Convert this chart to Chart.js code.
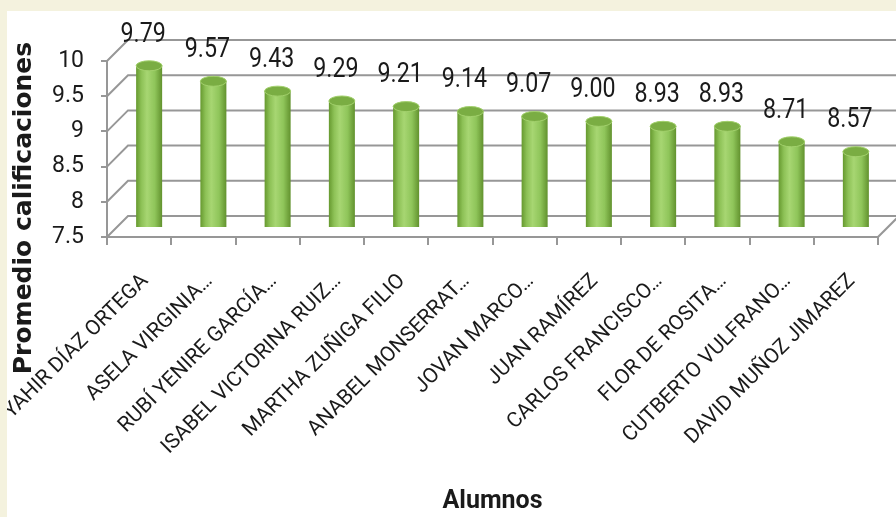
<!DOCTYPE html>
<html><head><meta charset="utf-8">
<script src="https://cdn.jsdelivr.net/npm/chart.js@4.4.1/dist/chart.umd.min.js"></script>
<style>
html,body{margin:0;padding:0;background:#F4F2DE;width:896px;height:517px;overflow:hidden}
#wrap{position:absolute;left:7px;top:11px;width:889px;height:506px;background:#fff}
canvas{display:block}
</style></head><body>
<div id="wrap"><canvas id="c" width="889" height="506"></canvas></div>
<script>
const categories = [
  'YAHIR DÍAZ ORTEGA',
  'ASELA VIRGINIA…',
  'RUBÍ YENIRE GARCÍA…',
  'ISABEL VICTORINA RUIZ…',
  'MARTHA ZUÑIGA FILIO',
  'ANABEL MONSERRAT…',
  'JOVAN MARCO…',
  'JUAN RAMÍREZ',
  'CARLOS FRANCISCO…',
  'FLOR DE ROSITA…',
  'CUTBERTO VULFRANO…',
  'DAVID MUÑOZ JIMAREZ'
];
const scores = [9.79, 9.57, 9.43, 9.29, 9.21, 9.14, 9.07, 9.00, 8.93, 8.93, 8.71, 8.57];
const yTicks = [7.5, 8, 8.5, 9, 9.5, 10];
const xTitle = 'Alumnos';
const yTitle = 'Promedio calificaciones';

const FONT = "Roboto, 'Open Sans', sans-serif";
const DEPTH = 21;      // back wall offset
const BAR_SHIFT = 10;  // bars sit mid-depth
const GRID = '#979797';

function barGradient(ctx, cx, w) {
  const g = ctx.createLinearGradient(cx - w / 2, 0, cx + w / 2, 0);
  g.addColorStop(0, '#66992f');
  g.addColorStop(0.2, '#8dc156');
  g.addColorStop(0.42, '#a7d672');
  g.addColorStop(0.72, '#8fc55a');
  g.addColorStop(1, '#62922e');
  return g;
}

const frame3d = {
  id: 'frame3d',
  beforeDatasetsDraw(chart) {
    const {ctx, chartArea: a, scales: {y}} = chart;
    ctx.save();
    ctx.strokeStyle = GRID;
    ctx.lineWidth = 2;
    yTicks.forEach(v => {
      const py = y.getPixelForValue(v);
      ctx.beginPath();
      ctx.moveTo(a.left, py);
      ctx.lineTo(a.left + DEPTH, py - DEPTH);
      ctx.lineTo(a.right + DEPTH, py - DEPTH);
      ctx.stroke();
    });
    ctx.beginPath();
    ctx.moveTo(a.right, a.bottom);
    ctx.lineTo(a.right + DEPTH, a.bottom - DEPTH);
    ctx.stroke();
    ctx.restore();
    const meta = chart.getDatasetMeta(0);
    meta.data.forEach(el => {
      if (isFinite(el.x) && isFinite(el.width)) {
        el.options.backgroundColor = barGradient(ctx, el.x, el.width);
      }
    });
    ctx.save();
    ctx.translate(BAR_SHIFT, -BAR_SHIFT);
  },
  afterDatasetsDraw(chart) {
    const {ctx} = chart;
    const meta = chart.getDatasetMeta(0);
    meta.data.forEach(el => {
      const w = el.width, rx = w / 2, ry = 5;
      ctx.beginPath();
      ctx.ellipse(el.x, el.base, rx, ry, 0, 0, Math.PI);
      ctx.fillStyle = barGradient(ctx, el.x, w);
      ctx.fill();
      ctx.beginPath();
      ctx.ellipse(el.x, el.y, rx, ry, 0, 0, Math.PI * 2);
      ctx.fillStyle = '#7aad43';
      ctx.fill();
      ctx.strokeStyle = '#a2d06c';
      ctx.lineWidth = 1;
      ctx.stroke();
    });
    ctx.restore();
  },
  afterDraw(chart) {
    const {ctx, scales: {y}} = chart;
    const meta = chart.getDatasetMeta(0);
    ctx.save();
    ctx.fillStyle = '#1a1a1a';
    ctx.font = "27px " + FONT;
    ctx.textAlign = 'center';
    ctx.textBaseline = 'middle';
    meta.data.forEach((el, i) => {
      ctx.save();
      ctx.translate(el.x + 4, y.getPixelForValue(scores[i]) - 41);
      ctx.scale(0.86, 1);
      ctx.fillText(scores[i].toFixed(2), 0, 0);
      ctx.restore();
    });
    ctx.font = "bold 25px 'DejaVu Sans', sans-serif";
    ctx.translate(17, 197);
    ctx.rotate(-Math.PI / 2);
    ctx.fillText(yTitle, 0, 0);
    ctx.restore();
  }
};

new Chart(document.getElementById('c'), {
  type: 'bar',
  data: {
    labels: categories,
    datasets: [{
      data: scores,
      backgroundColor: () => '#8cc355',
      borderWidth: 0,
      categoryPercentage: 1,
      barPercentage: 0.405
    }]
  },
  options: {
    responsive: false,
    animation: false,
    layout: {padding: {left: 0, top: 50, right: 18, bottom: 0}},
    plugins: {legend: {display: false}, tooltip: {enabled: false}},
    scales: {
      x: {
        grid: {offset: true, drawOnChartArea: false, drawTicks: true, tickLength: 8, color: GRID, lineWidth: 2},
        border: {display: true, color: GRID, width: 2},
        ticks: {maxRotation: 45, minRotation: 45, autoSkip: false, padding: 24, labelOffset: 6,
                color: '#1a1a1a', font: {family: FONT, size: 21}},
        title: {display: true, text: xTitle, color: '#1a1a1a', padding: {top: 0, bottom: 0},
                font: {family: FONT, size: 25, weight: 'bold'}},
        afterFit(s) { s.height = 280; s.paddingLeft = 0; s.paddingRight = 0; }
      },
      y: {
        min: 7.5, max: 10,
        afterBuildTicks(s) { s.ticks = yTicks.map(v => ({value: v})); },
        grid: {drawOnChartArea: false, drawTicks: true, tickLength: 6, color: GRID, lineWidth: 2},
        border: {display: true, color: GRID, width: 2},
        ticks: {padding: 17, color: '#1a1a1a', font: {family: FONT, size: 23},
                callback: (v) => String(v)},
        afterFit(s) { s.width = 100; s.paddingTop = 0; s.paddingBottom = 0; }
      }
    }
  },
  plugins: [frame3d]
});
</script>
</body></html>
